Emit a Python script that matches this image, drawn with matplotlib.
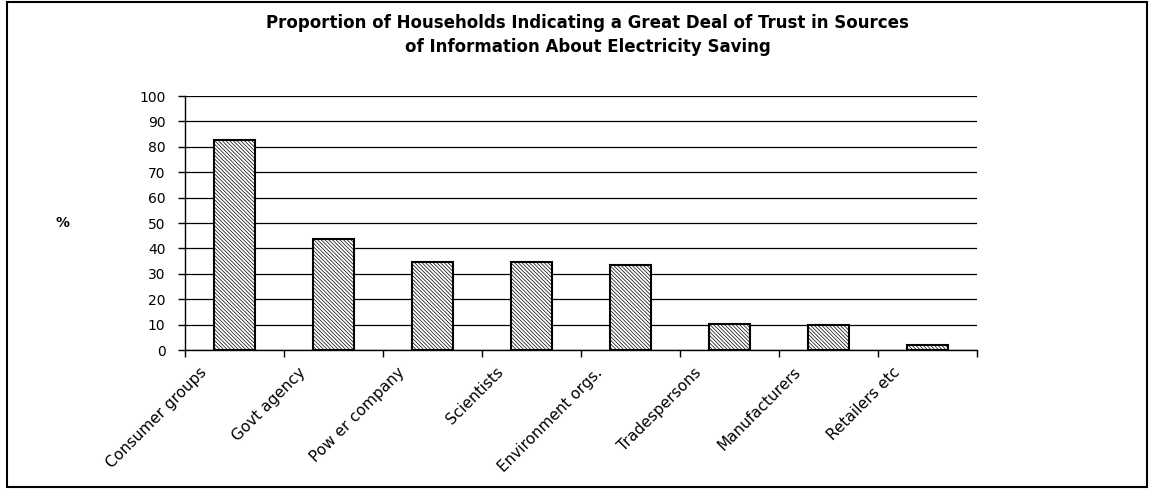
import numpy as np
import matplotlib.pyplot as plt
from matplotlib.patches import Rectangle
from matplotlib.transforms import ScaledTranslation

# Data
categories = ['Consumer groups', 'Govt agency', 'Pow er company', 'Scientists',
              'Environment orgs.', 'Tradespersons', 'Manufacturers', 'Retailers etc']
values = [82.7, 43.7, 34.7, 34.7, 33.4, 10.2, 9.8, 2.0]
yticks = list(range(0, 101, 10))

plt.rcParams['font.family'] = ['DejaVu Sans']
plt.rcParams['hatch.linewidth'] = 0.5
plt.rcParams['hatch.color'] = '#666666'

fig = plt.figure(figsize=(11.54, 4.9), dpi=100, facecolor='white')
ax = fig.add_axes([185/1154, 1-350/490, (977-185)/1154, (350-96)/490])

x = np.arange(len(categories)) + 0.5
ax.bar(x, values, width=0.41, facecolor='white', edgecolor='black',
       linewidth=1.5, hatch='\\\\\\\\\\\\\\\\\\', zorder=3)

# Axis settings
ax.set_xlim(0, len(categories))
ax.set_ylim(0, 100)
ax.set_yticks(yticks)
ax.set_yticklabels([str(v) for v in yticks], fontsize=10)
ax.yaxis.grid(True, color='black', linewidth=0.9, zorder=0)
ax.set_axisbelow(True)
for s in ['top', 'right']:
    ax.spines[s].set_visible(False)
ax.spines['left'].set_linewidth(1)
ax.spines['bottom'].set_linewidth(1)
ax.tick_params(axis='y', length=5, width=1, pad=9)

# category ticks at boundaries, labels at centres
ax.set_xticks(np.arange(len(categories) + 1), minor=True)
ax.set_xticks(x)
ax.set_xticklabels(categories, rotation=45, ha='right', va='center',
                   rotation_mode='anchor', fontsize=11)
ax.tick_params(axis='x', which='major', length=0, pad=0)
ax.tick_params(axis='x', which='minor', length=5, width=1)
offset = ScaledTranslation(-30/100, -20/100, fig.dpi_scale_trans)
for lbl in ax.get_xticklabels():
    lbl.set_transform(lbl.get_transform() + offset)

# Title and axis label
fig.text(0.509, 1-35/490,
         'Proportion of Households Indicating a Great Deal of Trust in Sources\n'
         'of Information About Electricity Saving',
         ha='center', va='center', fontsize=12, fontweight='bold', linespacing=1.5)
fig.text(63/1154, 1-223/490, '%', ha='center', va='center', fontsize=10, fontweight='bold')

# outer frame
fig.patches.append(Rectangle((7/1154, 3/490), 1140/1154, 485/490, transform=fig.transFigure,
                             fill=False, edgecolor='black', linewidth=1.5))

fig.savefig('out.png', dpi=100, facecolor='white')
